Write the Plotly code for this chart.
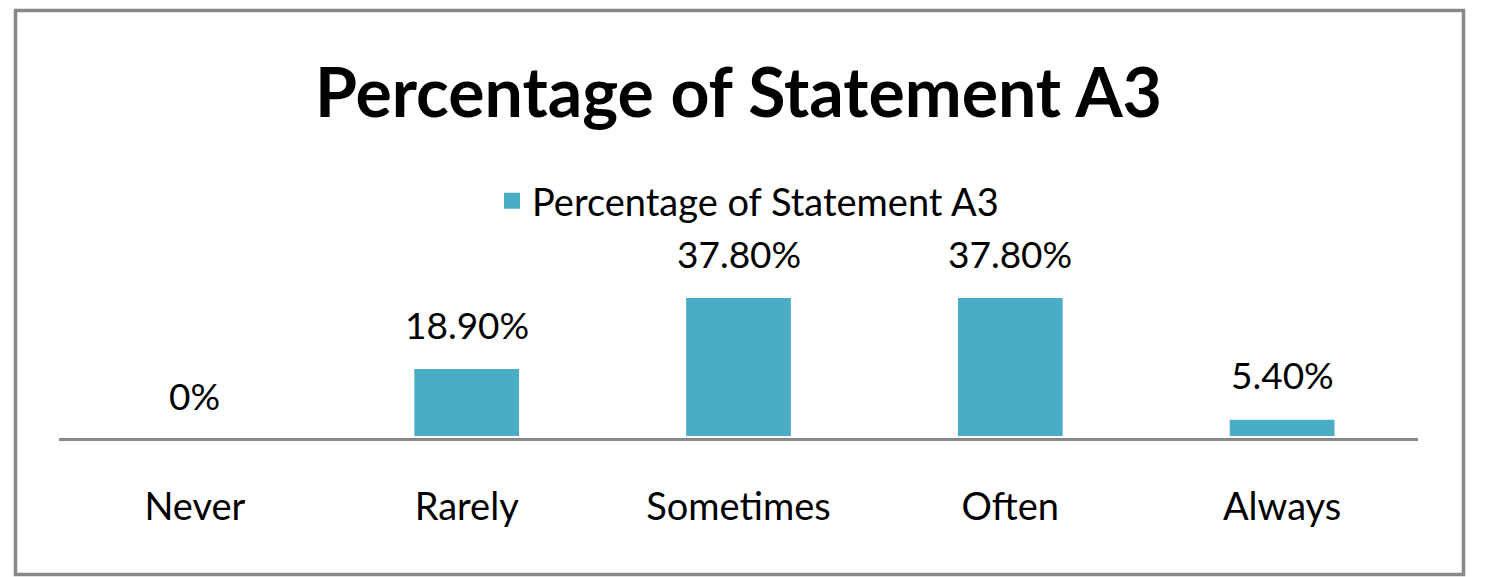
import plotly.graph_objects as go

categories = ["Never", "Rarely", "Sometimes", "Often", "Always"]
values = [0, 18.9, 37.8, 37.8, 5.4]
series_name = "Percentage of Statement A3"
title_text = "Percentage of Statement A3"

labels = ["0%" if v == 0 else f"{v:.2f}%" for v in values]

W, H = 1487, 577
ml, mr, mt, mb = 59, 69, 240, 139
FONT = "Lato, 'Open Sans', sans-serif"
BAR = "#4BACC6"

fig = go.Figure()
fig.add_trace(go.Bar(
    x=categories, y=values, name=series_name,
    marker=dict(color=BAR, line=dict(color="#FFFFFF", width=4)),
    width=0.4, showlegend=False, cliponaxis=False,
))
# legend entry with a larger square symbol
fig.add_trace(go.Scatter(
    x=[None], y=[None], mode="markers", name=series_name,
    marker=dict(symbol="square", size=16, color=BAR), showlegend=True,
))

for c, v, t in zip(categories, values, labels):
    fig.add_annotation(x=c, y=v, text=t, showarrow=False, yanchor="middle",
                       yshift=43, font=dict(size=37, family=FONT, color="#000000"))

pw = W - ml - mr
ph = H - mt - mb
def px(x):
    return (x - ml) / pw
def py(y):
    return (H - mb - y) / ph

fig.add_shape(type="rect", xref="paper", yref="paper",
              x0=px(15.5), x1=px(1463.5), y0=py(574.5), y1=py(10.5),
              line=dict(color="#888888", width=3.5), fillcolor="rgba(0,0,0,0)", layer="below")

fig.update_layout(
    width=W, height=H,
    margin=dict(l=ml, r=mr, t=mt, b=mb, autoexpand=False),
    paper_bgcolor="white", plot_bgcolor="white",
    font=dict(family=FONT, color="#000000"),
    title=dict(text=f"<b>{title_text}</b>", xref="paper", x=0.5, xanchor="center",
               y=1 - 93 / H, yanchor="middle",
               font=dict(size=68, family=FONT, color="#000000")),
    legend=dict(orientation="h", x=px(748), xanchor="center",
                y=py(201), yanchor="middle",
                font=dict(size=38, family=FONT, color="#000000"),
                itemwidth=30, bgcolor="rgba(0,0,0,0)"),
    showlegend=True,
)
fig.update_xaxes(showline=True, linecolor="#888888", linewidth=3,
                 ticks="", showgrid=False,
                 tickfont=dict(size=38, family=FONT, color="#000000"),
                 ticklabelstandoff=33)
fig.update_yaxes(range=[0, ph / (142 / 37.8)], visible=False, showgrid=False)

fig.write_html("out.html")
